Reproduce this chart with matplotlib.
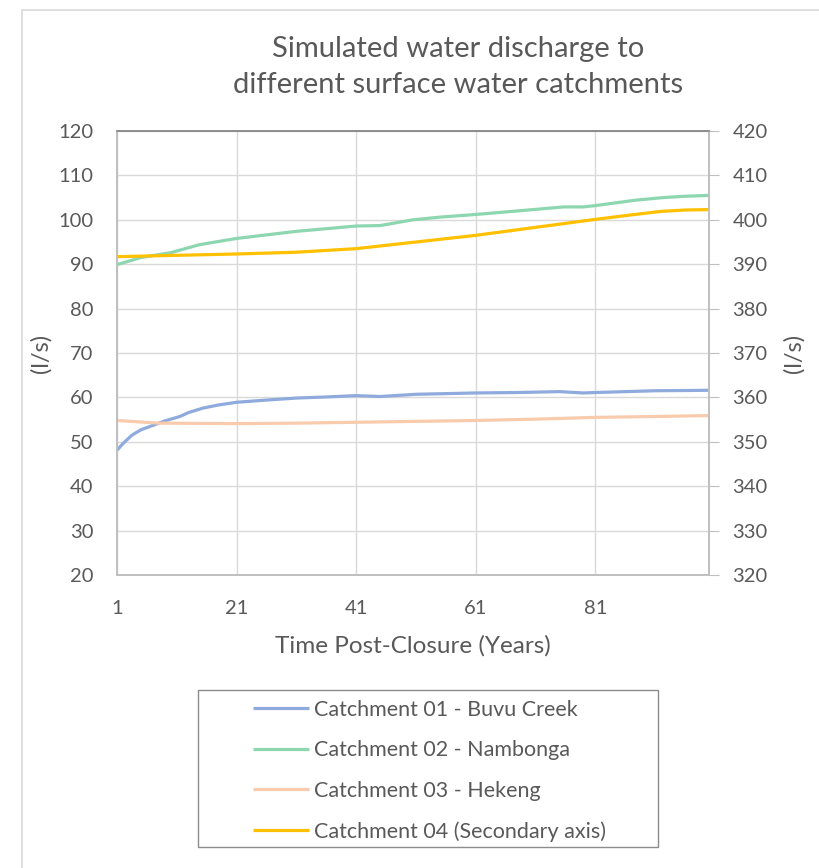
import matplotlib
matplotlib.use("Agg")
import matplotlib.pyplot as plt
from matplotlib.patches import Rectangle

plt.rcParams['font.family'] = ['Lato', 'DejaVu Sans']

TXT = '#595959'

# years
years_01 = [1, 2, 3.5, 5, 6.8, 9, 11.5, 13, 15.4, 18, 21, 26, 31, 36, 41, 45, 51, 61, 68, 75, 79, 81, 86, 91, 96, 100]
buvu = [48.1, 49.6, 51.5, 52.7, 53.6, 54.7, 55.7, 56.6, 57.6, 58.3, 58.9, 59.4, 59.85, 60.1, 60.4, 60.2, 60.7, 61.0, 61.1, 61.3, 61.0, 61.1, 61.3, 61.5, 61.55, 61.6]

years_02 = [1, 5, 10, 14.8, 21, 26, 31, 36, 41, 45, 50.5, 55, 61, 68, 75.7, 79, 81, 87.6, 92.3, 96, 100]
nambonga = [89.9, 91.5, 92.6, 94.4, 95.8, 96.6, 97.4, 98.0, 98.6, 98.7, 100.0, 100.6, 101.2, 102.0, 102.9, 102.9, 103.2, 104.4, 105.0, 105.3, 105.5]

years_03 = [1, 8, 21, 31, 41, 51, 61, 71, 81, 91, 100]
hekeng = [54.8, 54.2, 54.1, 54.2, 54.4, 54.6, 54.8, 55.1, 55.5, 55.7, 55.9]

years_04 = [1, 11, 21, 31, 41, 51, 61, 71, 81, 87, 92, 96, 100]
secondary = [391.7, 392.0, 392.3, 392.7, 393.5, 395.0, 396.5, 398.3, 400.1, 401.1, 401.9, 402.2, 402.3]

labels = ['Catchment 01 - Buvu Creek', 'Catchment 02 - Nambonga',
          'Catchment 03 - Hekeng', 'Catchment 04 (Secondary axis)']
colors = ['#8FAADC', '#8DD7B0', '#F8CBAD', '#FFC000']

W, H = 819, 868
fig = plt.figure(figsize=(W / 100, H / 100), dpi=100)

# outer chart border (right/bottom edges fall outside the picture)
fig.patches.append(Rectangle((22 / W, -0.01), 1.0, 1 - 10 / H + 0.01,
                             transform=fig.transFigure, fill=False,
                             edgecolor='#D9D9D9', linewidth=1.2))

ax = fig.add_axes([117 / W, 1 - 575 / H, (709 - 117) / W, (575 - 131) / H])
ax2 = ax.twinx()

l1, = ax.plot(years_01, buvu, color=colors[0], lw=2.3, solid_capstyle='butt')
l2, = ax.plot(years_02, nambonga, color=colors[1], lw=2.3, solid_capstyle='butt')
l3, = ax.plot(years_03, hekeng, color=colors[2], lw=2.3, solid_capstyle='butt')
l4, = ax2.plot(years_04, secondary, color=colors[3], lw=2.3, solid_capstyle='butt')

ax.set_xlim(1, 100)
ax.set_ylim(20, 120)
ax2.set_ylim(320, 420)
ax.set_xticks([1, 21, 41, 61, 81])
ax.set_yticks(range(20, 121, 10))
ax2.set_yticks(range(320, 421, 10))

ax.grid(True, color='#D9D9D9', lw=1)
ax.set_axisbelow(True)

for a in (ax, ax2):
    for s in a.spines.values():
        s.set_color('#BFBFBF')
        s.set_linewidth(1.2)
    a.spines['top'].set_color('#8C8C8C')

ax.tick_params(axis='y', length=0, labelsize=14.5, labelcolor=TXT, pad=17)
ax.tick_params(axis='x', length=0, labelsize=14.5, labelcolor=TXT, pad=18)
ax2.tick_params(axis='y', length=7, color='#BFBFBF', labelsize=14.5, labelcolor=TXT, pad=10)

ax.set_ylabel('(l/s)', fontsize=17, color=TXT, labelpad=5)
ax2.set_ylabel('(l/s)', fontsize=17, color=TXT, labelpad=11, rotation=90)
ax.set_xlabel('Time Post-Closure (Years)', fontsize=17.5, color=TXT, labelpad=13)

fig.text(458 / W, 1 - 67 / H, 'Simulated water discharge to\ndifferent surface water catchments',
         ha='center', va='center', fontsize=21, color=TXT, linespacing=1.5)

# legend box
fig.patches.append(Rectangle((198 / W, 1 - 847 / H), (658 - 198) / W, (847 - 690) / H,
                             transform=fig.transFigure, fill=False,
                             edgecolor='#8C8C8C', linewidth=1.0))
leg = fig.legend([l1, l2, l3, l4], labels, loc='upper left',
                 bbox_to_anchor=(253 / W, 1 - 700 / H), fontsize=15.5,
                 frameon=False, handlelength=2.6, handletextpad=0.25,
                 labelspacing=0.95, borderpad=0, borderaxespad=0)
for t in leg.get_texts():
    t.set_color(TXT)

fig.savefig('out.png', dpi=100)
